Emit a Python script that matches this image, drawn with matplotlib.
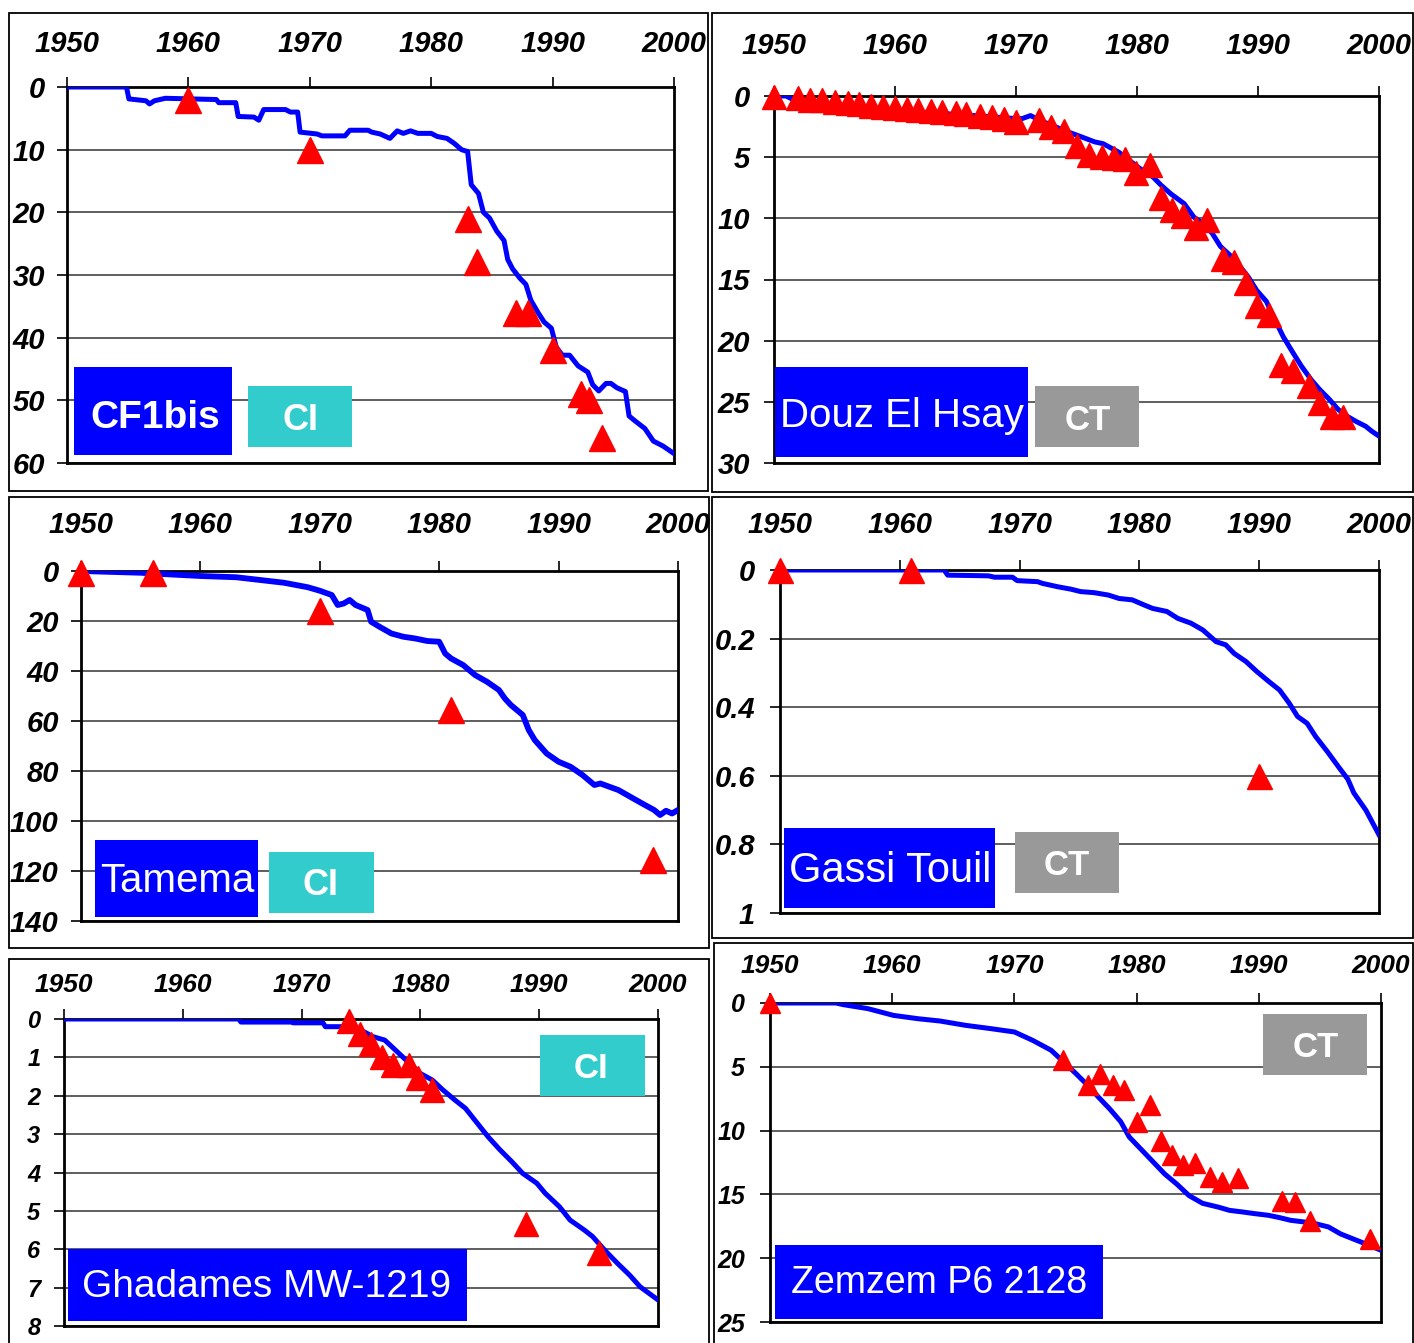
import matplotlib

matplotlib.use("Agg")
import matplotlib.pyplot as plt
from matplotlib.patches import Rectangle

W, H = 1414, 1343

BLUE = "#0000FF"
RED = "#FF0000"
CI_COLOR = "#33CCCC"
CT_COLOR = "#999999"
TICK_FONT = ["Liberation Sans", "DejaVu Sans"]
PLAIN_FONT = ["Liberation Sans", "DejaVu Sans"]

decade_ticks = [1950, 1960, 1970, 1980, 1990, 2000]
decade_labels = ["1950", "1960", "1970", "1980", "1990", "2000"]

# CF1bis (CI) - simulated drawdown (line) and observed (triangles), m
cf1_yr = [1950, 1954.9, 1955.1, 1956.5, 1956.8, 1957.2, 1958.1, 1962.3, 1962.5, 1963.9,
          1964.1, 1965.4, 1965.8, 1966.2, 1968.0, 1968.4, 1969.0, 1969.2, 1970.6, 1971.0,
          1972.9, 1973.3, 1974.8, 1975.1, 1975.8, 1976.6, 1977.2, 1977.7, 1978.3, 1978.9,
          1980.0, 1980.5, 1981.3, 1981.9, 1982.5, 1983.0, 1983.3, 1983.9, 1984.3, 1984.8,
          1985.4, 1986.0, 1986.3, 1986.7, 1987.3, 1987.8, 1988.2, 1988.8, 1989.3, 1989.9,
          1990.3, 1990.8, 1991.4, 1992.1, 1992.9, 1993.3, 1993.8, 1994.4, 1994.8, 1995.3,
          1996.0, 1996.3, 1996.8, 1997.6, 1998.3, 1999.1, 2000.0]
cf1_dd = [0, 0, 1.9, 2.2, 2.7, 2.2, 1.8, 2.0, 2.5, 2.5,
          4.7, 4.8, 5.3, 3.6, 3.6, 4.0, 4.0, 7.2, 7.5, 7.8,
          7.8, 6.9, 6.9, 7.2, 7.5, 8.2, 7.0, 7.4, 7.0, 7.4,
          7.4, 7.9, 8.2, 9.0, 10.0, 10.3, 15.6, 17.0, 20.0, 20.9,
          23.0, 24.5, 27.5, 29.0, 30.5, 31.5, 34.0, 36.0, 37.5, 38.5,
          41.5, 42.8, 42.8, 44.5, 45.5, 47.5, 48.5, 47.3, 47.3, 48.0,
          48.6, 52.5, 53.3, 54.5, 56.5, 57.3, 58.5]
cf1_obs_yr = [1960, 1970, 1983, 1983.8, 1987, 1988, 1990, 1992.3, 1993, 1994.1]
cf1_obs_dd = [2, 10, 21, 28, 36, 36, 42, 49, 50, 56]

# Douz El Hsay (CT)
douz_yr = [1950, 1951, 1952, 1955, 1960, 1965, 1968, 1970, 1970.5, 1971.2,
           1972, 1974.2, 1975.3, 1976.5, 1977.2, 1978.5, 1980.2, 1981.3, 1982, 1982.8,
           1983.9, 1984.7, 1985.4, 1986.2, 1986.9, 1988, 1989.2, 1989.9, 1990.7, 1991.4,
           1992.1, 1992.9, 1993.6, 1994.4, 1995.1, 1995.9, 1996.6, 1997.4, 1998.1, 1998.9,
           1999.4, 2000]
douz_dd = [0, 0, 0.5, 0.9, 1.2, 1.5, 1.7, 1.85, 1.85, 1.6,
           2.0, 2.9, 3.3, 3.75, 3.9, 4.6, 5.9, 6.6, 7.3, 8.0,
           8.8, 9.9, 10.4, 11.2, 12.3, 13.3, 14.8, 15.9, 16.8, 18.3,
           19.7, 21.0, 22.1, 23.2, 24.0, 24.8, 25.6, 26.2, 26.6, 27.0,
           27.4, 27.8]
douz_obs_yr = [1950, 1952, 1953, 1954, 1955, 1956.1, 1957, 1958, 1959, 1960,
               1961, 1961.9, 1963, 1963.9, 1965, 1965.9, 1967, 1968, 1969, 1970,
               1971.9, 1972.9, 1974, 1975, 1976, 1977.1, 1978.1, 1979, 1979.9, 1981.1,
               1982, 1982.9, 1983.8, 1984.9, 1985.8, 1987.1, 1988, 1989, 1989.9, 1990.9,
               1991.9, 1992.9, 1994.2, 1995.1, 1996.1, 1997]
douz_obs_dd = [0.1, 0.2, 0.3, 0.35, 0.45, 0.55, 0.65, 0.8, 0.9, 1.0,
               1.05, 1.15, 1.2, 1.3, 1.35, 1.5, 1.65, 1.75, 1.9, 2.1,
               2.0, 2.55, 2.9, 4.1, 4.8, 4.95, 5.1, 5.15, 6.3, 5.65,
               8.3, 9.3, 9.8, 10.8, 10.1, 13.3, 13.6, 15.3, 17.2, 17.9,
               22.0, 22.5, 23.7, 25.1, 26.2, 26.2]

# Tamema (CI)
tam_yr = [1950, 1955, 1956, 1960, 1963, 1965, 1967, 1968, 1969, 1970,
          1971, 1971.5, 1972, 1972.5, 1973, 1974, 1974.3, 1975, 1976, 1977,
          1978, 1979, 1980, 1980.5, 1981, 1982, 1983, 1984, 1985, 1985.5,
          1986, 1987, 1987.5, 1988, 1989, 1990, 1991, 1992, 1993, 1993.5,
          1995, 1996, 1997, 1998, 1998.5, 1999, 1999.5, 2000]
tam_dd = [0, 0.7, 1.0, 2.0, 2.5, 3.6, 4.7, 5.6, 6.5, 7.9,
          9.6, 13.6, 13.0, 11.6, 13.6, 15.6, 20.3, 22.3, 25.0, 26.3,
          27.0, 28.0, 28.3, 33.0, 35.0, 37.6, 41.6, 44.3, 47.6, 51.0,
          53.6, 57.6, 63.6, 67.6, 73.0, 76.3, 78.3, 81.6, 85.6, 85.0,
          87.6, 90.3, 93.0, 95.6, 97.6, 95.9, 97.0, 95.6]
tam_obs_yr = [1950, 1956, 1970, 1981, 1997.9]
tam_obs_dd = [0.7, 0.7, 16, 55.5, 115.5]

# Gassi Touil (CT)
gas_yr = [1950, 1963.7, 1964.0, 1967.4, 1967.9, 1969.4, 1969.8, 1971.5, 1971.9, 1973.2,
          1974.3, 1975.1, 1976.2, 1977.4, 1978.3, 1979.4, 1980.4, 1981.1, 1982.3, 1983.2,
          1984.3, 1985.3, 1986.4, 1987.2, 1987.9, 1988.9, 1989.8, 1990.8, 1991.7, 1992.5,
          1993.2, 1994.0, 1994.7, 1995.7, 1996.6, 1997.4, 1997.9, 1998.9, 2000]
gas_dd = [0, 0, 0.015, 0.017, 0.021, 0.021, 0.031, 0.034, 0.039, 0.049,
          0.056, 0.063, 0.066, 0.073, 0.083, 0.087, 0.102, 0.112, 0.121, 0.141,
          0.155, 0.175, 0.209, 0.218, 0.243, 0.267, 0.296, 0.325, 0.35, 0.388,
          0.427, 0.447, 0.485, 0.53, 0.573, 0.61, 0.65, 0.70, 0.772]
gas_obs_yr = [1950, 1960.9, 1990]
gas_obs_dd = [0, 0, 0.6]
gas_ylabels = ["0", "0.2", "0.4", "0.6", "0.8", "1"]

# Ghadames MW-1219 (CI)
gha_yr = [1950, 1964.7, 1964.9, 1969.1, 1969.3, 1971.8, 1972.0, 1974.1, 1975.0, 1976.0,
          1977.0, 1977.9, 1979.1, 1980.0, 1981.0, 1981.9, 1982.9, 1983.8, 1984.8, 1985.7,
          1986.7, 1987.7, 1988.6, 1989.8, 1990.5, 1991.7, 1992.6, 1993.8, 1994.5, 1995.5,
          1996.6, 1997.6, 1998.5, 2000]
gha_dd = [0, 0, 0.08, 0.08, 0.1, 0.1, 0.2, 0.2, 0.29, 0.46,
          0.55, 0.81, 1.16, 1.42, 1.59, 1.85, 2.11, 2.33, 2.72, 3.07,
          3.41, 3.72, 4.02, 4.28, 4.54, 4.89, 5.24, 5.5, 5.67, 6.02,
          6.37, 6.67, 6.98, 7.32]
gha_obs_yr = [1974, 1974.9, 1975.8, 1976.8, 1977.7, 1979, 1979.8, 1981, 1988.9, 1995]
gha_obs_dd = [0.05, 0.4, 0.65, 1.0, 1.2, 1.2, 1.55, 1.85, 5.35, 6.1]

# Zemzem P6 2128 (CT)
zem_yr = [1950, 1955.4, 1956.0, 1958.0, 1960.1, 1962.1, 1963.9, 1966.0, 1968.0, 1970.0,
          1971.5, 1973.0, 1973.9, 1975.0, 1976.0, 1976.9, 1977.8, 1978.7, 1979.4, 1980.3,
          1981.2, 1982.3, 1983.3, 1984.3, 1985.4, 1986.7, 1987.6, 1988.7, 1989.6, 1990.8,
          1991.7, 1992.6, 1993.7, 1994.6, 1995.7, 1996.7, 1997.8, 1998.7, 2000]
zem_dd = [0, 0, 0.13, 0.44, 0.97, 1.23, 1.41, 1.75, 2.0, 2.27,
          2.93, 3.7, 4.5, 5.5, 6.45, 7.4, 8.3, 9.3, 10.5, 11.4,
          12.3, 13.4, 14.2, 15.1, 15.7, 16.0, 16.25, 16.38, 16.5, 16.64,
          16.82, 17.03, 17.16, 17.29, 17.55, 18.1, 18.52, 18.86, 19.38]
zem_obs_yr = [1950, 1974, 1976, 1977, 1978.1, 1979, 1980, 1981.1, 1982, 1982.9,
              1983.8, 1984.8, 1986, 1987, 1988.3, 1991.9, 1993, 1994.2, 1999.1]
zem_obs_dd = [0, 4.5, 6.4, 5.6, 6.4, 6.8, 9.3, 8.0, 10.8, 11.9,
              12.7, 12.5, 13.6, 14.0, 13.7, 15.5, 15.6, 17.1, 18.5]


def fig_box(x0, y0, x1, y1):
    """Pixel box (top-left origin) -> figure fraction [left, bottom, w, h]."""
    return [x0 / W, 1 - y1 / H, (x1 - x0) / W, (y1 - y0) / H]


def plot_well(fig, box, years, depth, obs_years, obs_depth, yticks, ylabels,
              xpad, ypad, xsize, ysize, marker_size, line_width=3.6):
    ax = fig.add_axes(fig_box(*box))
    ax.plot(years, depth, color=BLUE, lw=line_width, zorder=3)
    ax.plot(obs_years, obs_depth, "^", color=RED, mec=RED, ms=marker_size,
            clip_on=False, zorder=4)
    ax.set_xlim(1950, 2000)
    ax.set_ylim(yticks[-1], 0)
    ax.xaxis.tick_top()
    ax.set_xticks(decade_ticks, decade_labels, fontfamily=TICK_FONT,
                  fontweight="bold", fontstyle="italic", fontsize=xsize)
    ax.set_yticks(yticks, ylabels, fontfamily=TICK_FONT,
                  fontweight="bold", fontstyle="italic", fontsize=ysize)
    ax.tick_params(axis="x", top=True, bottom=False, direction="out",
                   length=7, width=1.2, pad=xpad)
    ax.tick_params(axis="y", direction="out", length=7, width=1.2, pad=ypad)
    ax.grid(axis="y", color="#333333", lw=1.1)
    ax.set_axisbelow(True)
    for spine in ax.spines.values():
        spine.set_linewidth(2.0)
    return ax


def label_box(fig, box, color, text, cx, baseline, size, weight="normal"):
    x0, y0, x1, y1 = box
    fig.add_artist(Rectangle((x0 / W, 1 - y1 / H), (x1 - x0) / W, (y1 - y0) / H,
                             transform=fig.transFigure, facecolor=color,
                             edgecolor="none", zorder=5))
    fig.text(cx / W, 1 - baseline / H, text, ha="center", va="baseline",
             color="white", fontsize=size, family=PLAIN_FONT, weight=weight, zorder=6)


def panel_frame(fig, box):
    x0, y0, x1, y1 = box
    fig.add_artist(Rectangle((x0 / W, 1 - y1 / H), (x1 - x0) / W, (y1 - y0) / H,
                             transform=fig.transFigure, fill=False,
                             edgecolor="black", lw=1.3, zorder=2))


fig = plt.figure(figsize=(W / 100, H / 100), dpi=100)
fig.patch.set_facecolor("white")

for frame in [(9, 13, 708, 491), (712, 13, 1413, 492), (9, 497, 709, 948),
              (712, 497, 1413, 938), (9, 959, 709, 1345), (714, 943, 1413, 1345)]:
    panel_frame(fig, frame)

plot_well(fig, (67, 87, 674, 463), cf1_yr, cf1_dd, cf1_obs_yr, cf1_obs_dd,
          list(range(0, 61, 10)), [str(v) for v in range(0, 61, 10)],
          xpad=14, ypad=9, xsize=21, ysize=21, marker_size=19)
plot_well(fig, (774, 96, 1379, 463), douz_yr, douz_dd, douz_obs_yr, douz_obs_dd,
          list(range(0, 31, 5)), [str(v) for v in range(0, 31, 5)],
          xpad=19, ypad=10, xsize=21, ysize=21, marker_size=17)
plot_well(fig, (81, 571, 678, 921), tam_yr, tam_dd, tam_obs_yr, tam_obs_dd,
          list(range(0, 141, 20)), [str(v) for v in range(0, 141, 20)],
          xpad=16, ypad=9, xsize=21, ysize=21, marker_size=19, line_width=4.2)
plot_well(fig, (780, 570, 1379, 913), gas_yr, gas_dd, gas_obs_yr, gas_obs_dd,
          [0, 0.2, 0.4, 0.6, 0.8, 1.0], gas_ylabels,
          xpad=15.5, ypad=11, xsize=21, ysize=21, marker_size=18)
plot_well(fig, (64, 1019, 658, 1326), gha_yr, gha_dd, gha_obs_yr, gha_obs_dd,
          list(range(0, 9)), [str(v) for v in range(0, 9)],
          xpad=9, ypad=10, xsize=19, ysize=17, marker_size=17)
plot_well(fig, (770, 1003, 1381, 1322), zem_yr, zem_dd, zem_obs_yr, zem_obs_dd,
          list(range(0, 26, 5)), [str(v) for v in range(0, 26, 5)],
          xpad=11, ypad=11, xsize=19, ysize=18, marker_size=15)

# well names
label_box(fig, (74, 367, 232, 455), BLUE, "CF1bis", 155, 428, 28, "bold")
label_box(fig, (775, 367, 1028, 457), BLUE, "Douz El Hsay", 902, 427, 29)
label_box(fig, (95, 840, 258, 917), BLUE, "Tamema", 177, 892, 29)
label_box(fig, (784, 828, 995, 908), BLUE, "Gassi Touil", 890, 882, 30)
label_box(fig, (68, 1249, 467, 1321), BLUE, "Ghadames MW-1219", 267, 1297, 28)
label_box(fig, (775, 1245, 1103, 1319), BLUE, "Zemzem P6 2128", 939, 1293, 27)

# aquifer tags
label_box(fig, (248, 386, 352, 447), CI_COLOR, "CI", 300, 430, 26, "bold")
label_box(fig, (1035, 386, 1139, 447), CT_COLOR, "CT", 1088, 430, 25, "bold")
label_box(fig, (269, 852, 374, 913), CI_COLOR, "CI", 321, 895, 26, "bold")
label_box(fig, (1015, 832, 1119, 893), CT_COLOR, "CT", 1067, 875, 25, "bold")
label_box(fig, (540, 1035, 645, 1096), CI_COLOR, "CI", 591, 1078, 25, "bold")
label_box(fig, (1263, 1014, 1367, 1075), CT_COLOR, "CT", 1316, 1057, 25, "bold")

fig.savefig("out.png", dpi=100)
plt.close(fig)
